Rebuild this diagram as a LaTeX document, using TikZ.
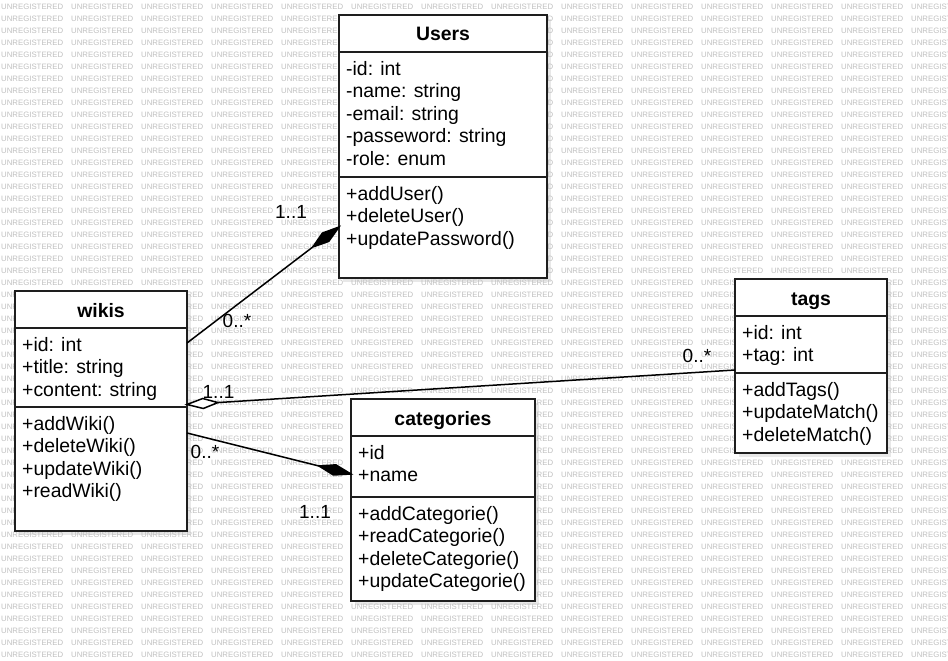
\documentclass[tikz,border=0pt]{standalone}
\usepackage{fontspec}
\setmainfont{Liberation Sans}
\usetikzlibrary{calc}
\definecolor{wm}{RGB}{192,192,192}
\definecolor{shd}{RGB}{232,232,232}
\definecolor{bd}{RGB}{30,30,30}
\tikzset{
 cls/.style={draw=bd,line width=1.6pt,fill=white,inner sep=0pt,outer sep=0pt},
 sepline/.style={draw=bd,line width=1.4pt},
 ttl/.style={font=\fontsize{19.4}{22}\selectfont\bfseries,anchor=base,inner sep=0pt},
 itm/.style={font=\fontsize{19.4}{22}\selectfont,anchor=base west,inner sep=0pt},
 lbl/.style={font=\fontsize{19}{22}\selectfont,anchor=base,inner sep=0pt},
 wmk/.style={font=\fontsize{7.8}{8}\selectfont,text=wm,anchor=west,inner sep=0pt},
 conn/.style={draw=black,line width=1.5pt},
 fdia/.style={draw=black,fill=black,line width=1.5pt,line join=miter},
 odia/.style={draw=black,fill=white,line width=1.5pt,line join=miter},
}
\begin{document}
\begin{tikzpicture}[x=1pt,y=-1pt]
\fill[white] (0,0) rectangle (948,661);
\useasboundingbox (0,0) rectangle (948,661);
% shadows
\fill[shd] (343,19) rectangle (551,282);
\fill[shd] (19,295) rectangle (191,535);
\fill[shd] (739,283) rectangle (891,457);
\fill[shd] (355,403) rectangle (539,605);
% watermark
\foreach \j in {0,...,54}{
 \foreach \k in {0,...,13}{
  \node[wmk] (wm-\j-\k) at ({1+70*\k},{7+12*\j}) {UNREGISTERED};
 }
}
% Users
\node[cls,minimum width=208pt,minimum height=263pt] (users) at (443,146.5) {};
\draw[sepline] (users.west |- 0,52) -- (users.east |- 0,52);
\draw[sepline] (users.west |- 0,177) -- (users.east |- 0,177);
\node[ttl] (usersT) at (443,41) {Users};
\node[itm] (u1) at (346,75) {-id: int};
\node[itm] (u2) at (346,97.5) {-name: string};
\node[itm] (u3) at (346,120) {-email: string};
\node[itm] (u4) at (346,142.5) {-passeword: string};
\node[itm] (u5) at (346,165) {-role: enum};
\node[itm] (u6) at (346,200) {+addUser()};
\node[itm] (u7) at (346,222.5) {+deleteUser()};
\node[itm] (u8) at (346,245) {+updatePassword()};
% wikis
\node[cls,minimum width=172pt,minimum height=240pt] (wikis) at (101,411) {};
\draw[sepline] (wikis.west |- 0,328) -- (wikis.east |- 0,328);
\draw[sepline] (wikis.west |- 0,407) -- (wikis.east |- 0,407);
\node[ttl] (wikisT) at (101,317) {wikis};
\node[itm] (w1) at (22,351) {+id: int};
\node[itm] (w2) at (22,373.5) {+title: string};
\node[itm] (w3) at (22,396) {+content: string};
\node[itm] (w4) at (22,430) {+addWiki()};
\node[itm] (w5) at (22,452.5) {+deleteWiki()};
\node[itm] (w6) at (22,475) {+updateWiki()};
\node[itm] (w7) at (22,497.5) {+readWiki()};
% tags
\node[cls,minimum width=152pt,minimum height=174pt] (tags) at (811,366) {};
\draw[sepline] (tags.west |- 0,316) -- (tags.east |- 0,316);
\draw[sepline] (tags.west |- 0,373) -- (tags.east |- 0,373);
\node[ttl] (tagsT) at (811,305) {tags};
\node[itm] (t1) at (742,339) {+id: int};
\node[itm] (t2) at (742,361.5) {+tag: int};
\node[itm] (t3) at (742,396) {+addTags()};
\node[itm] (t4) at (742,418.5) {+updateMatch()};
\node[itm] (t5) at (742,441) {+deleteMatch()};
% categories
\node[cls,minimum width=184pt,minimum height=202pt] (cats) at (443,500) {};
\draw[sepline] (cats.west |- 0,436) -- (cats.east |- 0,436);
\draw[sepline] (cats.west |- 0,497) -- (cats.east |- 0,497);
\node[ttl] (catsT) at (443,425) {categories};
\node[itm] (c1) at (358,459) {+id};
\node[itm] (c2) at (358,481.5) {+name};
\node[itm] (c3) at (358,520) {+addCategorie()};
\node[itm] (c4) at (358,542.5) {+readCategorie()};
\node[itm] (c5) at (358,565) {+deleteCategorie()};
\node[itm] (c6) at (358,587.5) {+updateCategorie()};
% connector end points
\coordinate (a0) at ([yshift=68pt]wikis.east);
\coordinate (a1) at ([yshift=-80.5pt]users.west);
\coordinate (b0) at ([yshift=6.5pt]wikis.east);
\coordinate (b1) at ([yshift=-4pt]tags.west);
\coordinate (c0) at ([yshift=-22pt]wikis.east);
\coordinate (c1) at ([yshift=26pt]cats.west);
% wikis -- Users (composition)
\draw[conn] (a0) -- ($(a1)!33pt!(a0)$);
\filldraw[fdia] (a1) -- ($(a1)!17.7pt!17.2:(a0)$) -- ($(a1)!33pt!(a0)$) -- ($(a1)!17.7pt!-17.2:(a0)$) -- cycle;
% wikis -- tags (aggregation)
\draw[conn] ($(b0)!31pt!(b1)$) -- (b1);
\filldraw[odia] (b0) -- ($(b0)!16.8pt!17.3:(b1)$) -- ($(b0)!31pt!(b1)$) -- ($(b0)!16.8pt!-17.3:(b1)$) -- cycle;
% wikis -- categories (composition)
\draw[conn] (c0) -- ($(c1)!33pt!(c0)$);
\filldraw[fdia] (c1) -- ($(c1)!17.7pt!17.2:(c0)$) -- ($(c1)!33pt!(c0)$) -- ($(c1)!17.7pt!-17.2:(c0)$) -- cycle;
% labels
\node[lbl] (l1) at (291,218) {1..1};
\node[lbl] (l2) at (237,327) {0..*};
\node[lbl] (l3) at (218.5,398) {1..1};
\node[lbl] (l4) at (205,458) {0..*};
\node[lbl] (l5) at (315,518) {1..1};
\node[lbl] (l6) at (697,362) {0..*};
\end{tikzpicture}
\end{document}
